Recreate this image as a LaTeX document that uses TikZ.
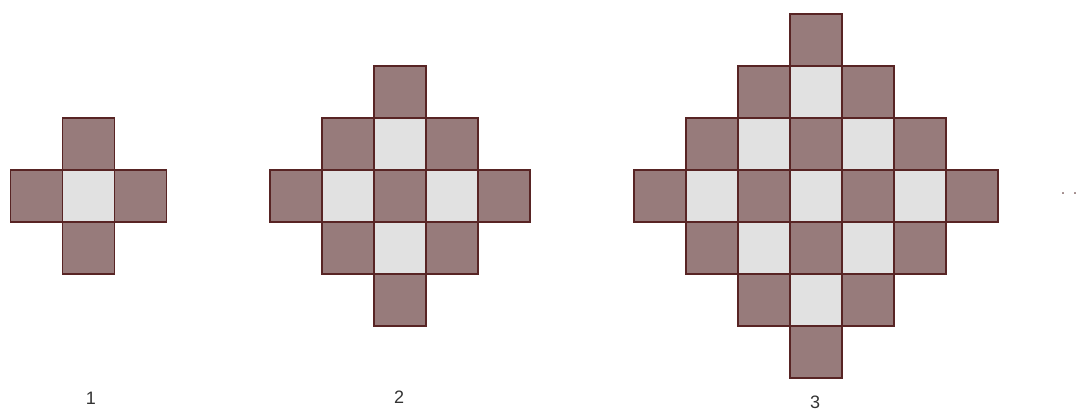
\documentclass[tikz,border=0pt]{standalone}
\usepackage{fontspec}
\setmainfont{Liberation Sans}
\definecolor{dkfill}{RGB}{151,123,123}
\definecolor{ltfill}{RGB}{225,225,225}
\definecolor{edge}{RGB}{88,36,36}
\definecolor{dotc}{RGB}{150,125,125}
\tikzset{
  cell/.style={draw=edge, line width=1.8pt, minimum size=52pt, inner sep=0pt, outer sep=0pt},
  dk/.style={fill=dkfill},
  lt/.style={fill=ltfill},
  lbl/.style={font=\fontsize{18}{21}\selectfont, text=black!80, inner sep=0pt}
}
\begin{document}
\begin{tikzpicture}[x=1pt,y=-1pt]
\useasboundingbox[fill=white] (0,0) rectangle (1086,412);
\foreach \n/\cx in {1/88.5,2/400,3/816} {
  \foreach \i in {-\n,...,\n} {
    \foreach \j in {-\n,...,\n} {
      \pgfmathtruncatemacro\d{abs(\i)+abs(\j)}
      \ifnum\d>\n\relax\else
        \pgfmathtruncatemacro\p{mod(\n-\d,2)}
        \ifnum\p=0 \def\st{dk}\else\def\st{lt}\fi
        \pgfmathtruncatemacro\ii{\i+5}
        \pgfmathtruncatemacro\jj{\j+5}
        \node[cell,\st] (f\n c\ii r\jj) at (\cx+52*\i, 196+52*\j) {};
      \fi
    }
  }
}
\node[lbl] (l1) at (91,398) {1};
\node[lbl] (l2) at (399,397) {2};
\node[lbl] (l3) at (815,402) {3};
\node[lbl, text=dotc] (dots) at (1069,194) {.\hspace{7pt}.};
\end{tikzpicture}
\end{document}
